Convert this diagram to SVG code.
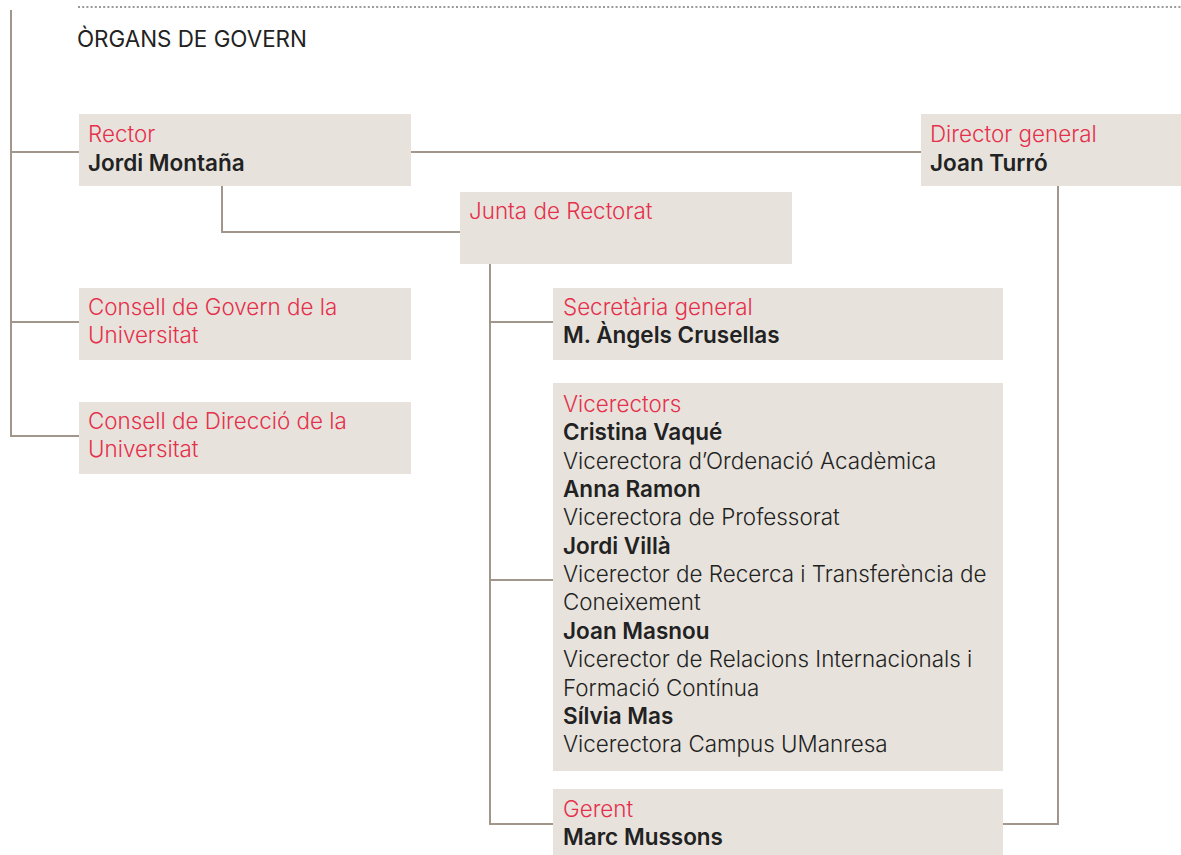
<svg xmlns="http://www.w3.org/2000/svg" width="1181" height="855" viewBox="0 0 1181 855">
<style>
.box{fill:#e7e2dc}
.t{font-family:Inter,"Liberation Sans",sans-serif;font-size:22.4px;font-weight:300}
.red{fill:#e5304b}
.dark{fill:#222}
.b{font-family:Inter,"Liberation Sans",sans-serif;font-size:22.5px;font-weight:600;fill:#222}
.ln{fill:none;stroke:#a0968c;stroke-width:2}
</style>
<rect width="1181" height="855" fill="#fff"/>
<line x1="78" y1="7" x2="1181" y2="7" stroke="#9a9a9a" stroke-width="2" stroke-dasharray="2 2.2"/>
<text class="t dark" x="77" y="47" style="font-weight:400">ÒRGANS DE GOVERN</text>
<g id="connectors">
<path class="ln" d="M11 10V436H79"/>
<path class="ln" d="M11 152H79"/>
<path class="ln" d="M11 322H79"/>
<path class="ln" d="M411 152H921"/>
<path class="ln" d="M222 186V232H460"/>
<path class="ln" d="M490 264V824H553"/>
<path class="ln" d="M490 322H553"/>
<path class="ln" d="M490 580H553"/>
<path class="ln" d="M1058 186V824H1003"/>
</g>
<g id="rector">
<rect class="box" x="79" y="114" width="332" height="72"/>
<text class="t red" x="88" y="142">Rector</text>
<text class="b" x="88" y="171">Jordi Montaña</text>
</g>
<g id="director">
<rect class="box" x="921" y="114" width="260" height="72"/>
<text class="t red" x="930" y="142">Director general</text>
<text class="b" x="930" y="171">Joan Turró</text>
</g>
<g id="junta">
<rect class="box" x="460" y="192" width="332" height="72"/>
<text class="t red" x="469" y="219">Junta de Rectorat</text>
</g>
<g id="consell-govern">
<rect class="box" x="79" y="288" width="332" height="72"/>
<text class="t red" x="88" y="315">Consell de Govern de la</text>
<text class="t red" x="88" y="343">Universitat</text>
</g>
<g id="consell-direccio">
<rect class="box" x="79" y="402" width="332" height="72"/>
<text class="t red" x="88" y="429">Consell de Direcció de la</text>
<text class="t red" x="88" y="457">Universitat</text>
</g>
<g id="secretaria">
<rect class="box" x="553" y="288" width="450" height="72"/>
<text class="t red" x="563" y="315">Secretària general</text>
<text class="b" x="563" y="343">M. Àngels Crusellas</text>
</g>
<g id="vicerectors">
<rect class="box" x="553" y="383" width="450" height="388"/>
<text class="t red" x="563" y="412">Vicerectors</text>
<text class="b" x="563" y="440">Cristina Vaqué</text>
<text class="t dark" x="563" y="468.5">Vicerectora d’Ordenació Acadèmica</text>
<text class="b" x="563" y="497">Anna Ramon</text>
<text class="t dark" x="563" y="525.3">Vicerectora de Professorat</text>
<text class="b" x="563" y="553.7">Jordi Villà</text>
<text class="t dark" x="563" y="582">Vicerector de Recerca i Transferència de</text>
<text class="t dark" x="563" y="610.4">Coneixement</text>
<text class="b" x="563" y="638.8">Joan Masnou</text>
<text class="t dark" x="563" y="667.2">Vicerector de Relacions Internacionals i</text>
<text class="t dark" x="563" y="695.6">Formació Contínua</text>
<text class="b" x="563" y="724">Sílvia Mas</text>
<text class="t dark" x="563" y="752.4">Vicerectora Campus UManresa</text>
</g>
<g id="gerent">
<rect class="box" x="553" y="789" width="450" height="66"/>
<text class="t red" x="563" y="817">Gerent</text>
<text class="b" x="563" y="845">Marc Mussons</text>
</g>
</svg>
